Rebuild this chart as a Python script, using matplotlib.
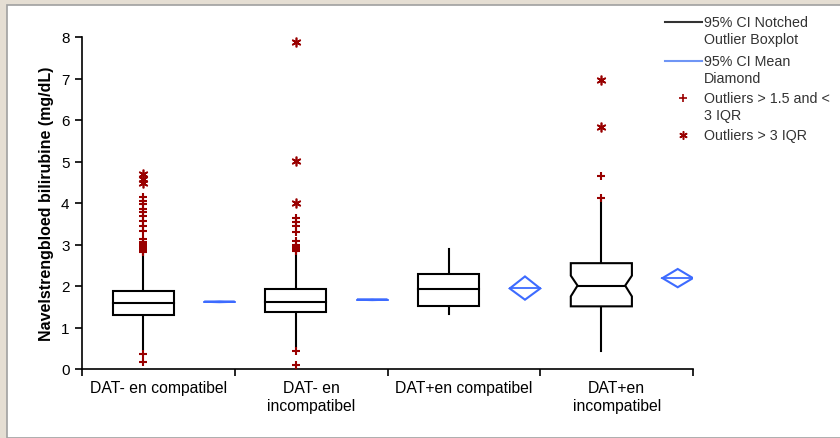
import numpy as np
import matplotlib.pyplot as plt
from matplotlib.patches import Rectangle, Polygon
from matplotlib.lines import Line2D

plt.rcParams['font.family'] = ['Liberation Sans', 'DejaVu Sans']

categories = ['DAT- en compatibel', 'DAT- en\nincompatibel',
              'DAT+en compatibel', 'DAT+en\nincompatibel']
q1 = [1.31, 1.37, 1.53, 1.51]
med = [1.58, 1.62, 1.93, 2.01]
q3 = [1.89, 1.93, 2.29, 2.55]
whislo = [0.45, 0.52, 1.33, 0.44]
whishi = [2.78, 2.89, 2.89, 4.11]
notched = [False, False, False, True]
notch_lo = [1.55, 1.59, 1.80, 1.75]
notch_hi = [1.61, 1.65, 2.06, 2.25]

# Gemiddelde met 95% BI
mean = [1.62, 1.67, 1.94, 2.19]
mean_lo = [1.61, 1.66, 1.67, 1.97]
mean_hi = [1.63, 1.68, 2.23, 2.41]

# Uitschieters
mild = [
    [0.17, 0.36, 2.81, 2.85, 2.89, 2.93, 2.97, 3.01, 3.05, 3.13, 3.33, 3.45,
     3.57, 3.69, 3.78, 3.86, 3.98, 4.06, 4.14],
    [0.10, 0.44, 2.85, 2.90, 2.95, 3.00, 3.09, 3.29, 3.44, 3.55, 3.63],
    [],
    [4.13, 4.64],
]
extreme = [
    [4.48, 4.58, 4.70],
    [3.99, 5.02, 7.89],
    [],
    [5.82, 6.97],
]

box_off, box_w = 0.40, 0.40
dia_off, dia_w = 0.90, 0.20
red = '#990000'
blue = '#3d6bff'

fig = plt.figure(figsize=(8.4, 4.39), dpi=100, facecolor='#e5ded3')
fig.add_artist(Rectangle((7 / 840, 0), 1, 1 - 6 / 439, transform=fig.transFigure,
                         facecolor='white', edgecolor='#a0a0a0', lw=1.2, zorder=-10))

ax = fig.add_axes([82 / 840, 69 / 439, 611 / 840, 332 / 439])
ax.set_facecolor('none')

for i in range(len(categories)):
    c = i + box_off
    l, r = c - box_w / 2, c + box_w / 2
    # snorren
    ax.plot([c, c], [q3[i], whishi[i]], color='black', lw=1.5, zorder=2)
    ax.plot([c, c], [whislo[i], q1[i]], color='black', lw=1.5, zorder=2)
    # box
    if notched[i]:
        d = box_w * 0.11
        xs = [l, r, r, r - d, r, r, l, l, l + d, l, l]
        ys = [q1[i], q1[i], notch_lo[i], med[i], notch_hi[i], q3[i], q3[i],
              notch_hi[i], med[i], notch_lo[i], q1[i]]
        ax.fill(xs, ys, facecolor='white', edgecolor='black', lw=1.5, zorder=3)
        ax.plot([l + d, r - d], [med[i], med[i]], color='black', lw=1.5, zorder=4)
    else:
        ax.add_patch(Rectangle((l, q1[i]), box_w, q3[i] - q1[i], facecolor='white',
                               edgecolor='black', lw=1.5, zorder=3))
        ax.plot([l, r], [med[i], med[i]], color='black', lw=1.5, zorder=4)
    # uitschieters
    ax.plot([c] * len(mild[i]), mild[i], ls='none', marker='+', ms=6,
            mew=1.5, color=red, zorder=5)
    ax.plot([c] * len(extreme[i]), extreme[i], ls='none', marker=(6, 2, 0), ms=7,
            mew=1.2, color=red, zorder=5)
    # gemiddelde-ruit
    m = i + dia_off
    ax.add_patch(Polygon([(m - dia_w / 2, mean[i]), (m, mean_hi[i]),
                          (m + dia_w / 2, mean[i]), (m, mean_lo[i])],
                         closed=True, fill=False, edgecolor=blue, lw=1.5, zorder=3))
    ax.plot([m - dia_w / 2, m + dia_w / 2], [mean[i], mean[i]], color=blue, lw=1.3, zorder=3)

ax.set_xlim(0, len(categories))
ax.set_ylim(0, 8)
ax.set_yticks(range(9))
ax.set_xticks(range(len(categories) + 1))
ax.set_xticklabels([])
ax.set_xticks(np.arange(len(categories)) + 0.5, categories, minor=True)
ax.tick_params(axis='x', which='minor', length=0, pad=8, labelsize=11.3)
ax.tick_params(axis='x', which='major', length=5, width=1.2)
ax.tick_params(axis='y', length=5, width=1.2, labelsize=11, pad=4)
for lab in ax.get_xticklabels(minor=True):
    lab.set_linespacing(1.25)
for s in ['top', 'right']:
    ax.spines[s].set_visible(False)
for s in ['left', 'bottom']:
    ax.spines[s].set_linewidth(1.2)
ax.set_ylabel('Navelstrengbloed bilirubine (mg/dL)', fontsize=11.5,
              fontweight='bold', labelpad=5)

# legenda
def fx(px):
    return px / 840

def fy(py):
    return 1 - py / 439

txt = dict(fontsize=10.3, color='#333333', va='top', ha='left', linespacing=1.25)
fig.add_artist(Line2D([fx(665), fx(702)], [fy(23), fy(23)], color='#333333', lw=1.5))
fig.text(fx(704), fy(16), '95% CI Notched\nOutlier Boxplot', **txt)
fig.add_artist(Line2D([fx(665), fx(702)], [fy(62), fy(62)], color='#6f95f5', lw=1.5))
fig.text(fx(704), fy(55), '95% CI Mean\nDiamond', **txt)
fig.add_artist(Line2D([fx(683)], [fy(99)], ls='none', marker='+', ms=6, mew=1.2, color=red))
fig.text(fx(704), fy(92), 'Outliers > 1.5 and <\n3 IQR', **txt)
fig.add_artist(Line2D([fx(683)], [fy(136)], ls='none', marker=(6, 2, 0), ms=6, mew=1.1, color=red))
fig.text(fx(704), fy(129), 'Outliers > 3 IQR', **txt)

fig.savefig('out.png', dpi=100, facecolor=fig.get_facecolor())
